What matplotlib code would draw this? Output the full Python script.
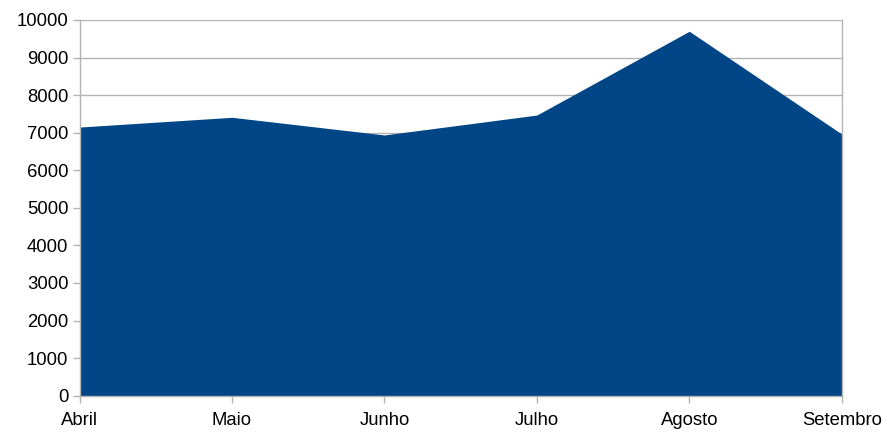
import numpy as np
import matplotlib
matplotlib.use('Agg')
from matplotlib import pyplot as plt

# monthly totals
months = ['Abril', 'Maio', 'Junho', 'Julho', 'Agosto', 'Setembro']
values = [7150, 7410, 6940, 7470, 9700, 6965]
y_ticks = list(range(0, 10001, 1000))

plt.rcParams['font.family'] = ['Liberation Sans', 'DejaVu Sans']

fig = plt.figure(figsize=(8.88, 4.32), dpi=100)
ax = fig.add_axes([79.5/888, 1 - 395.7/432, (841.7-79.5)/888, (395.7-20)/432])

x = np.arange(len(months))
ax.fill_between(x, values, 0, color='#004586', linewidth=0, zorder=2)

ax.set_xlim(0, len(months)-1)
ax.set_ylim(0, 10000)
ax.set_xticks(x)
ax.set_xticklabels(months)
ax.set_yticks(y_ticks)
ax.yaxis.grid(True, color='#b3b3b3', linewidth=1, zorder=0)
ax.set_axisbelow(True)

for side in ['top', 'right', 'left', 'bottom']:
    ax.spines[side].set_color('#b3b3b3')
    ax.spines[side].set_linewidth(1)
ax.spines['top'].set_visible(False)

ax.tick_params(axis='both', colors='#b3b3b3', labelcolor='black', labelsize=13.3,
               length=5, width=1)
ax.tick_params(axis='x', pad=7)
ax.tick_params(axis='y', pad=3)

fig.savefig('out.png', dpi=100)
